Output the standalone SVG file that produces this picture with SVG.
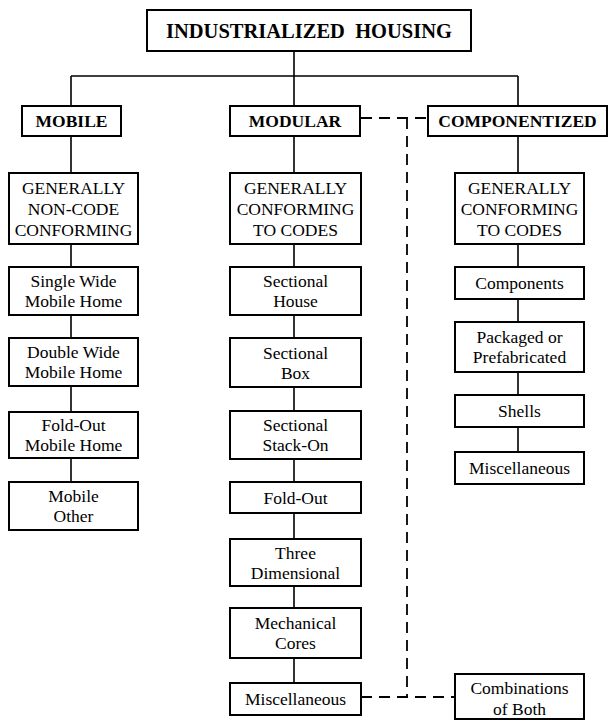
<svg xmlns="http://www.w3.org/2000/svg" width="610" height="720" viewBox="0 0 610 720">
<style>
.box{fill:#fff;stroke:#000;stroke-width:2}
.t{font-family:"Liberation Serif","Times New Roman",serif;font-size:17.5px;fill:#000;text-anchor:middle}
.b{font-weight:bold}
.ln{stroke:#000;stroke-width:1.6;fill:none}
.dash{stroke:#000;stroke-width:1.8;fill:none;stroke-dasharray:11 7}
</style>
<rect width="610" height="720" fill="#fff"/>
<g id="connectors">
<path class="ln" d="M294 51V106M71 76H518M71 76V106M518 76V106"/>
<path class="ln" d="M71 136V173M71 244V267M71 315V338M71 386V412M71 458V482"/>
<path class="ln" d="M294 136V173M294 244V267M294 315V338M294 387V411M294 459V482M294 513V539M294 586V608M294 658V683"/>
<path class="ln" d="M518 136V173M518 244V267M518 299V322M518 372V395M518 427V452"/>
<path class="dash" d="M361 118H428M407 118V697M361 697H455"/>
</g>
<g id="root"><rect class="box" x="147" y="10" width="324" height="41"/><text class="t b" x="309" y="38" style="font-size:20.5px" xml:space="preserve">INDUSTRIALIZED  HOUSING</text></g>
<g id="mobile"><rect class="box" x="22" y="106" width="99" height="30"/><text class="t b" x="71.5" y="127">MOBILE</text></g>
<g id="modular"><rect class="box" x="230" y="106" width="130" height="30"/><text class="t b" x="295" y="127">MODULAR</text></g>
<g id="componentized"><rect class="box" x="428" y="106" width="179" height="30"/><text class="t b" x="517.5" y="127">COMPONENTIZED</text></g>

<g id="mob-gnc"><rect class="box" x="9" y="173" width="129" height="71"/><text class="t" x="73.5" y="194">GENERALLY</text><text class="t" x="73.5" y="215">NON-CODE</text><text class="t" x="73.5" y="236">CONFORMING</text></g>
<g id="mob-single"><rect class="box" x="9" y="267" width="129" height="48"/><text class="t" x="73.5" y="287">Single Wide</text><text class="t" x="73.5" y="307">Mobile Home</text></g>
<g id="mob-double"><rect class="box" x="9" y="338" width="129" height="48"/><text class="t" x="73.5" y="358">Double Wide</text><text class="t" x="73.5" y="378">Mobile Home</text></g>
<g id="mob-foldout"><rect class="box" x="9" y="412" width="129" height="46"/><text class="t" x="73.5" y="431">Fold-Out</text><text class="t" x="73.5" y="451">Mobile Home</text></g>
<g id="mob-other"><rect class="box" x="9" y="482" width="129" height="48"/><text class="t" x="73.5" y="502">Mobile</text><text class="t" x="73.5" y="522">Other</text></g>

<g id="mod-gc"><rect class="box" x="230" y="173" width="131" height="71"/><text class="t" x="295.5" y="194">GENERALLY</text><text class="t" x="295.5" y="215">CONFORMING</text><text class="t" x="295.5" y="236">TO CODES</text></g>
<g id="mod-house"><rect class="box" x="230" y="267" width="131" height="48"/><text class="t" x="295.5" y="287">Sectional</text><text class="t" x="295.5" y="307">House</text></g>
<g id="mod-box"><rect class="box" x="230" y="338" width="131" height="49"/><text class="t" x="295.5" y="358.5">Sectional</text><text class="t" x="295.5" y="378.5">Box</text></g>
<g id="mod-stack"><rect class="box" x="230" y="411" width="131" height="48"/><text class="t" x="295.5" y="431">Sectional</text><text class="t" x="295.5" y="451">Stack-On</text></g>
<g id="mod-foldout"><rect class="box" x="230" y="482" width="131" height="31"/><text class="t" x="295.5" y="503.5">Fold-Out</text></g>
<g id="mod-three"><rect class="box" x="230" y="539" width="131" height="47"/><text class="t" x="295.5" y="558.5">Three</text><text class="t" x="295.5" y="578.5">Dimensional</text></g>
<g id="mod-mech"><rect class="box" x="230" y="608" width="131" height="50"/><text class="t" x="295.5" y="629">Mechanical</text><text class="t" x="295.5" y="649">Cores</text></g>
<g id="mod-misc"><rect class="box" x="230" y="683" width="131" height="32"/><text class="t" x="295.5" y="705">Miscellaneous</text></g>

<g id="comp-gc"><rect class="box" x="455" y="173" width="129" height="71"/><text class="t" x="519.5" y="194">GENERALLY</text><text class="t" x="519.5" y="215">CONFORMING</text><text class="t" x="519.5" y="236">TO CODES</text></g>
<g id="comp-components"><rect class="box" x="455" y="267" width="129" height="32"/><text class="t" x="519.5" y="289">Components</text></g>
<g id="comp-packaged"><rect class="box" x="455" y="322" width="129" height="50"/><text class="t" x="519.5" y="343">Packaged or</text><text class="t" x="519.5" y="363">Prefabricated</text></g>
<g id="comp-shells"><rect class="box" x="455" y="395" width="129" height="32"/><text class="t" x="519.5" y="417">Shells</text></g>
<g id="comp-misc"><rect class="box" x="455" y="452" width="129" height="32"/><text class="t" x="519.5" y="474">Miscellaneous</text></g>

<g id="combinations"><rect class="box" x="455" y="674" width="129" height="45"/><text class="t" x="519.5" y="694">Combinations</text><text class="t" x="519.5" y="715">of Both</text></g>
</svg>
